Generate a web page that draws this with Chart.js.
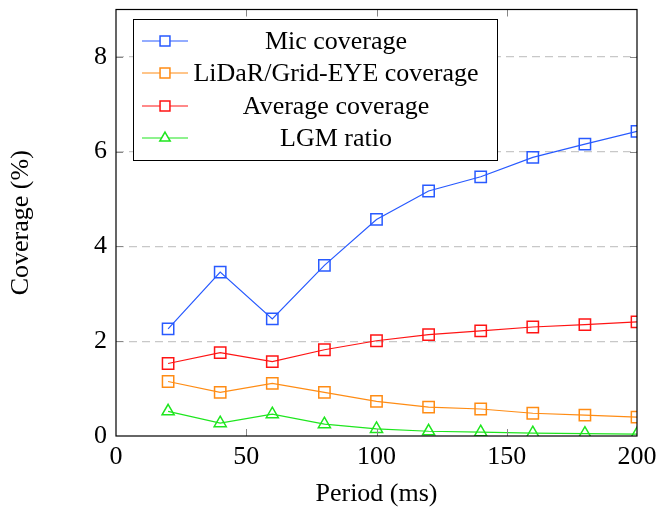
<!DOCTYPE html>
<html><head><meta charset="utf-8">
<script src="https://cdn.jsdelivr.net/npm/chart.js@4/dist/chart.umd.min.js"></script>
<style>html,body{margin:0;padding:0;background:#fff}#wrap{width:656px;height:510px}</style>
</head><body><div id="wrap"><canvas id="c" width="656" height="510"></canvas></div>
<script>
const periods = [20, 40, 60, 80, 100, 120, 140, 160, 180, 200];
const micCoverage = [2.26, 3.46, 2.47, 3.60, 4.57, 5.17, 5.47, 5.88, 6.16, 6.43];
const lidarCoverage = [1.15, 0.92, 1.11, 0.92, 0.73, 0.61, 0.57, 0.48, 0.44, 0.40];
const averageCoverage = [1.53, 1.76, 1.57, 1.82, 2.01, 2.14, 2.22, 2.30, 2.35, 2.41];
const lgmRatio = [0.52, 0.27, 0.46, 0.25, 0.15, 0.10, 0.08, 0.06, 0.05, 0.04];
const seriesNames = ['Mic coverage', 'LiDaR/Grid-EYE coverage', 'Average coverage', 'LGM ratio'];
const xTicks = [0, 50, 100, 150, 200];
const yTicks = [0, 2, 4, 6, 8];

const colors = ['rgb(40,90,255)', 'rgb(255,140,20)', 'rgb(255,20,20)', 'rgb(30,230,30)'];
const styles = ['rect', 'rect', 'rect', 'triangle'];
const values = [micCoverage, lidarCoverage, averageCoverage, lgmRatio];
const FONT = '"Liberation Serif", "DejaVu Serif", serif';
const FS = 26;

const datasets = seriesNames.map((n, i) => ({
  label: n,
  data: periods.map((p, j) => ({x: p, y: values[i][j]})),
  borderColor: colors[i],
  backgroundColor: 'rgba(0,0,0,0)',
  borderWidth: 1.2,
  pointStyle: styles[i],
  pointRadius: styles[i] === 'rect' ? 8 : 7,
  pointBorderWidth: 1.5,
  pointBorderColor: colors[i],
  pointBackgroundColor: 'rgba(0,0,0,0)',
  tension: 0
}));

const framePlugin = {
  id: 'frame',
  afterDraw(chart) {
    const ctx = chart.ctx, a = chart.chartArea;
    const xs = chart.scales.x, ys = chart.scales.y;
    ctx.save();
    ctx.strokeStyle = '#888';
    ctx.lineWidth = 1;
    xTicks.forEach(v => {
      if (v === 0 || v === 200) return;
      const px = Math.round(xs.getPixelForValue(v)) + 0.5;
      ctx.beginPath();
      ctx.moveTo(px, a.bottom); ctx.lineTo(px, a.bottom - 7);
      ctx.moveTo(px, a.top); ctx.lineTo(px, a.top + 7);
      ctx.stroke();
    });
    yTicks.forEach(v => {
      if (v === 0) return;
      const py = Math.round(ys.getPixelForValue(v)) + 0.5;
      ctx.beginPath();
      ctx.moveTo(a.left, py); ctx.lineTo(a.left + 7, py);
      ctx.moveTo(a.right, py); ctx.lineTo(a.right - 7, py);
      ctx.stroke();
    });
    ctx.strokeStyle = '#000';
    ctx.lineWidth = 1.2;
    ctx.strokeRect(a.left, a.top, a.right - a.left, a.bottom - a.top);
    // legend
    const lx = 133, ly = 19, lw = 364, lh = 141;
    ctx.fillStyle = '#fff';
    ctx.fillRect(lx, ly, lw, lh);
    ctx.strokeStyle = '#000';
    ctx.lineWidth = 1;
    ctx.strokeRect(lx + 0.5, ly + 0.5, lw, lh);
    const rows = [41, 73, 106, 138];
    chart.data.datasets.forEach((ds, i) => {
      const y = rows[i];
      ctx.strokeStyle = ds.borderColor;
      ctx.lineWidth = 1.2;
      ctx.beginPath(); ctx.moveTo(142, y); ctx.lineTo(188, y); ctx.stroke();
      ctx.lineWidth = 1.5;
      ctx.fillStyle = '#fff';
      Chart.helpers.drawPoint(ctx, {pointStyle: ds.pointStyle, radius: ds.pointStyle === 'rect' ? 7 : 6, rotation: 0, borderWidth: 1.5}, 165, y);
      ctx.fillStyle = '#000';
      ctx.font = FS + 'px ' + FONT;
      ctx.textAlign = 'center';
      ctx.textBaseline = 'middle';
      ctx.fillText(ds.label, 336, y + 1);
    });
    ctx.restore();
  }
};

new Chart(document.getElementById('c'), {
  type: 'line',
  data: { datasets },
  options: {
    responsive: false,
    animation: false,
    layout: { padding: { top: 4, right: 19, left: 6, bottom: 0 } },
    plugins: { legend: { display: false }, tooltip: { enabled: false } },
    scales: {
      x: {
        type: 'linear', min: 0, max: 200,
        afterBuildTicks: s => { s.ticks = xTicks.map(v => ({value: v})); },
        grid: { display: false, drawTicks: false },
        border: { display: false },
        ticks: { color: '#000', font: { family: FONT, size: FS }, padding: 6, maxRotation: 0 },
        title: { display: true, text: 'Period (ms)', color: '#000', font: { family: FONT, size: FS }, padding: { top: 4, bottom: 0 } },
        afterFit: s => { s.height = 74; s.paddingLeft = 0; s.paddingRight = 0; }
      },
      y: {
        type: 'linear', min: 0, max: 9,
        afterBuildTicks: s => { s.ticks = yTicks.map(v => ({value: v})); },
        grid: {
          drawTicks: false,
          color: c => (c.tick && c.tick.value === 0) ? 'rgba(0,0,0,0)' : 'rgb(200,200,200)',
          lineWidth: 1.2
        },
        border: { display: false, dash: [8, 5] },
        ticks: { color: '#000', font: { family: FONT, size: FS }, padding: 9 },
        title: { display: true, text: 'Coverage (%)', color: '#000', font: { family: FONT, size: FS }, padding: { top: 0, bottom: 0 } },
        afterFit: s => { s.width = 110; s.paddingTop = 0; s.paddingBottom = 0; }
      }
    }
  },
  plugins: [framePlugin]
});
</script></body></html>
